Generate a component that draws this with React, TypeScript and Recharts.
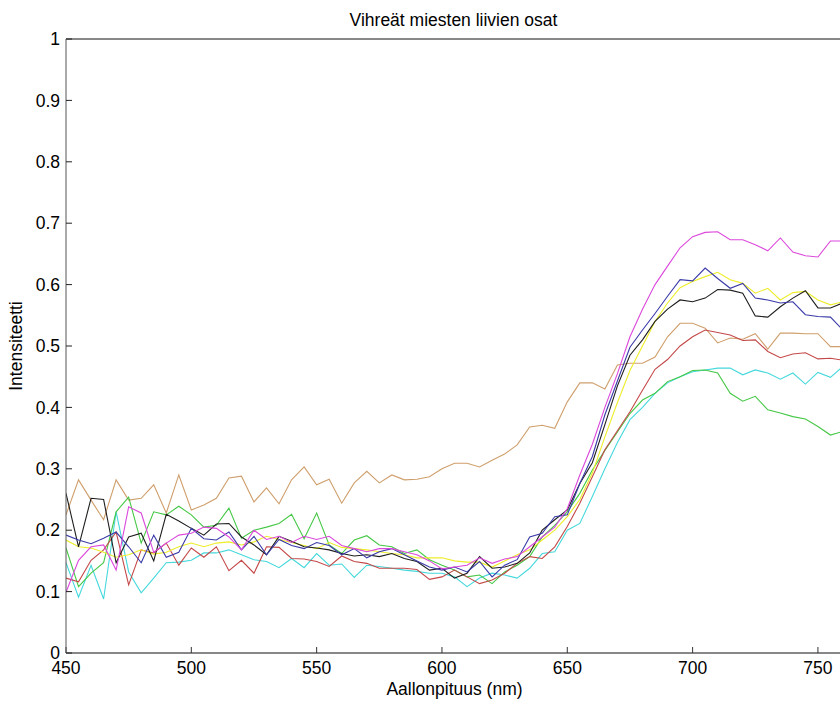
import React from 'react';
import { LineChart, Line, XAxis, YAxis } from 'recharts';

const wavelengths = [
  450, 455, 460, 465, 470, 475, 480, 485, 490, 495, 500, 505, 510, 515, 520,
  525, 530, 535, 540, 545, 550, 555, 560, 565, 570, 575, 580, 585, 590, 595,
  600, 605, 610, 615, 620, 625, 630, 635, 640, 645, 650, 655, 660, 665, 670,
  675, 680, 685, 690, 695, 700, 705, 710, 715, 720, 725, 730, 735, 740, 745,
  750, 755, 760,
];

const tan = [
  0.225, 0.282, 0.249, 0.217, 0.282, 0.249, 0.252, 0.274, 0.228, 0.29, 0.233, 0.241, 0.252, 0.285, 0.288,
  0.246, 0.269, 0.243, 0.282, 0.303, 0.274, 0.283, 0.244, 0.277, 0.296, 0.277, 0.29, 0.282, 0.283, 0.287,
  0.3, 0.309, 0.309, 0.303, 0.314, 0.324, 0.339, 0.368, 0.371, 0.366, 0.409, 0.44, 0.44, 0.43, 0.469,
  0.472, 0.472, 0.482, 0.515, 0.537, 0.537, 0.529, 0.505, 0.513, 0.511, 0.52, 0.495, 0.521, 0.521, 0.52,
  0.52, 0.499, 0.499,
];
const magenta = [
  0.099, 0.151, 0.173, 0.176, 0.135, 0.238, 0.228, 0.164, 0.179, 0.192, 0.195, 0.205, 0.203, 0.189, 0.168,
  0.2, 0.185, 0.19, 0.18, 0.19, 0.185, 0.19, 0.175, 0.17, 0.165, 0.17, 0.17, 0.165, 0.16, 0.15,
  0.137, 0.14, 0.143, 0.155, 0.146, 0.153, 0.157, 0.173, 0.189, 0.205, 0.235, 0.29, 0.34, 0.4, 0.455,
  0.515, 0.56, 0.6, 0.63, 0.66, 0.678, 0.685, 0.686, 0.673, 0.673, 0.665, 0.655, 0.676, 0.653, 0.647,
  0.645, 0.671, 0.671,
];
const blue = [
  0.192, 0.184, 0.178, 0.187, 0.197, 0.173, 0.147, 0.192, 0.156, 0.164, 0.203, 0.186, 0.184, 0.197, 0.168,
  0.19, 0.16, 0.185, 0.175, 0.17, 0.18, 0.175, 0.16, 0.17, 0.155, 0.165, 0.17, 0.16, 0.15, 0.14,
  0.135, 0.14, 0.132, 0.149, 0.124, 0.143, 0.152, 0.189, 0.195, 0.222, 0.225, 0.276, 0.32, 0.388, 0.443,
  0.498, 0.526, 0.553, 0.581, 0.608, 0.606, 0.627, 0.61, 0.594, 0.602, 0.578, 0.575, 0.57, 0.572, 0.551,
  0.548, 0.547, 0.526,
];
const black = [
  0.26, 0.173, 0.252, 0.25, 0.147, 0.189, 0.195, 0.15, 0.226, 0.215, 0.203, 0.192, 0.21, 0.211, 0.189,
  0.176, 0.16, 0.19, 0.182, 0.173, 0.171, 0.168, 0.162, 0.158, 0.16, 0.157, 0.162, 0.154, 0.149, 0.135,
  0.138, 0.122, 0.13, 0.157, 0.138, 0.14, 0.146, 0.163, 0.2, 0.217, 0.233, 0.276, 0.31, 0.372, 0.435,
  0.485, 0.51, 0.54, 0.56, 0.575, 0.572, 0.578, 0.592, 0.591, 0.586, 0.549, 0.547, 0.564, 0.578, 0.59,
  0.562, 0.562, 0.57,
];
const green = [
  0.171, 0.108, 0.13, 0.147, 0.23, 0.254, 0.179, 0.23, 0.225, 0.239, 0.225, 0.205, 0.208, 0.236, 0.187,
  0.2, 0.205, 0.211, 0.226, 0.186, 0.228, 0.176, 0.162, 0.184, 0.191, 0.176, 0.173, 0.162, 0.168, 0.152,
  0.143, 0.135, 0.124, 0.127, 0.113, 0.132, 0.143, 0.157, 0.189, 0.208, 0.23, 0.26, 0.298, 0.33, 0.36,
  0.39, 0.412, 0.423, 0.442, 0.45, 0.46, 0.461, 0.456, 0.423, 0.41, 0.418, 0.396, 0.391, 0.385, 0.381,
  0.369, 0.355, 0.361,
];
const red = [
  0.122, 0.116, 0.151, 0.168, 0.197, 0.111, 0.168, 0.163, 0.179, 0.143, 0.171, 0.156, 0.173, 0.134, 0.151,
  0.13, 0.173, 0.172, 0.154, 0.153, 0.149, 0.141, 0.158, 0.149, 0.146, 0.138, 0.138, 0.138, 0.136, 0.12,
  0.124, 0.135, 0.124, 0.113, 0.119, 0.13, 0.146, 0.157, 0.154, 0.173, 0.206, 0.244, 0.287, 0.331, 0.362,
  0.393, 0.428, 0.462, 0.478, 0.5, 0.515, 0.526, 0.522, 0.518, 0.509, 0.51, 0.491, 0.481, 0.487, 0.489,
  0.479, 0.48, 0.477,
];
const cyan = [
  0.147, 0.091, 0.143, 0.088, 0.23, 0.132, 0.098, 0.122, 0.147, 0.148, 0.151, 0.163, 0.163, 0.168, 0.16,
  0.152, 0.149, 0.139, 0.154, 0.139, 0.162, 0.143, 0.145, 0.123, 0.143, 0.141, 0.138, 0.135, 0.133, 0.13,
  0.13, 0.124, 0.108, 0.122, 0.13, 0.127, 0.122, 0.138, 0.162, 0.165, 0.2, 0.211, 0.255, 0.3, 0.343,
  0.38, 0.4, 0.423, 0.44, 0.45, 0.458, 0.461, 0.464, 0.464, 0.453, 0.461, 0.456, 0.446, 0.456, 0.438,
  0.457, 0.449, 0.467,
];
const yellow = [
  0.184, 0.173, 0.171, 0.164, 0.156, 0.16, 0.168, 0.161, 0.164, 0.173, 0.179, 0.173, 0.179, 0.181, 0.176,
  0.181, 0.19, 0.185, 0.18, 0.175, 0.17, 0.18, 0.172, 0.17, 0.168, 0.165, 0.162, 0.16, 0.155, 0.155,
  0.155, 0.15, 0.148, 0.148, 0.14, 0.15, 0.16, 0.168, 0.184, 0.2, 0.222, 0.25, 0.293, 0.352, 0.408,
  0.46, 0.5, 0.54, 0.57, 0.595, 0.605, 0.613, 0.62, 0.608, 0.602, 0.586, 0.594, 0.575, 0.587, 0.589,
  0.575, 0.567, 0.572,
];

const xTicks = [450, 500, 550, 600, 650, 700, 750];
const yTicks = [0, 0.1, 0.2, 0.3, 0.4, 0.5, 0.6, 0.7, 0.8, 0.9, 1];

const title = 'Vihreät miesten liivien osat';
const xLabel = 'Aallonpituus (nm)';
const yLabel = 'Intensiteetti';

const seriesList = [
  { key: 'tan', values: tan, color: '#cf9f6c' },
  { key: 'cyan', values: cyan, color: '#45d8dc' },
  { key: 'green', values: green, color: '#45c845' },
  { key: 'red', values: red, color: '#c44848' },
  { key: 'yellow', values: yellow, color: '#eded2a' },
  { key: 'black', values: black, color: '#1e1e1e' },
  { key: 'blue', values: blue, color: '#3a3aa8' },
  { key: 'magenta', values: magenta, color: '#dc48dc' },
];

const data = wavelengths.map((nm, i) => {
  const row: Record<string, number> = { nm };
  seriesList.forEach((s) => {
    row[s.key] = s.values[i];
  });
  return row;
});

const FONT = '"Liberation Sans", Arial, Helvetica, sans-serif';
const FS = 17.5;

const TitleContent = () => (
  <text x={453.5} y={26} textAnchor="middle" fontFamily={FONT} fontSize={FS} fill="#000">
    {title}
  </text>
);

const XLabelContent = (props: any) => {
  const vb = props.viewBox || { x: 66, width: 777 };
  return (
    <text x={vb.x + vb.width / 2} y={695} textAnchor="middle" fontFamily={FONT} fontSize={FS} fill="#000">
      {xLabel}
    </text>
  );
};

const YLabelContent = (props: any) => {
  const vb = props.viewBox || { y: 39, height: 614 };
  const cx = 16;
  const cy = vb.y + vb.height / 2;
  return (
    <text
      x={cx}
      y={cy}
      transform={`rotate(-90, ${cx}, ${cy})`}
      textAnchor="middle"
      dominantBaseline="central"
      fontFamily={FONT}
      fontSize={FS}
      fill="#000"
    >
      {yLabel}
    </text>
  );
};

const fmtY = (v: number) => (v === 0 ? '0' : v === 1 ? '1' : String(Math.round(v * 10) / 10));

export default function App() {
  return (
    <div
      style={{
        position: 'absolute',
        left: 0,
        top: 0,
        width: 840,
        height: 704,
        overflow: 'hidden',
        background: '#fff',
      }}
    >
      <LineChart
        width={850}
        height={704}
        data={data}
        margin={{ top: 38, right: 6, bottom: 0, left: 0 }}
      >
        <XAxis
          xAxisId="bottom"
          dataKey="nm"
          type="number"
          domain={[450, 760]}
          ticks={xTicks}
          allowDataOverflow
          orientation="bottom"
          height={51}
          tickSize={-6}
          tickMargin={14.5}
          axisLine={{ stroke: '#111', strokeWidth: 1 }}
          tickLine={{ stroke: '#333' }}
          tick={{ fill: '#000', fontFamily: FONT, fontSize: FS }}
          interval={0}
          label={{ value: xLabel, content: XLabelContent }}
        />
        <XAxis
          xAxisId="top"
          dataKey="nm"
          type="number"
          domain={[450, 760]}
          ticks={xTicks}
          allowDataOverflow
          orientation="top"
          height={1}
          tickSize={-6}
          tick={false}
          axisLine={{ stroke: '#111', strokeWidth: 1 }}
          tickLine={{ stroke: '#444' }}
          interval={0}
          label={{ value: title, content: TitleContent }}
        />
        <YAxis
          yAxisId="left"
          type="number"
          domain={[0, 1]}
          ticks={yTicks}
          allowDataOverflow
          orientation="left"
          width={66}
          tickSize={-6}
          tickMargin={12}
          axisLine={{ stroke: '#555', strokeWidth: 1 }}
          tickLine={{ stroke: '#222' }}
          tick={{ fill: '#000', fontFamily: FONT, fontSize: FS }}
          tickFormatter={fmtY}
          interval={0}
          label={{ value: yLabel, content: YLabelContent }}
        />
        <YAxis
          yAxisId="right"
          type="number"
          domain={[0, 1]}
          ticks={yTicks}
          allowDataOverflow
          orientation="right"
          width={1}
          tickSize={-6}
          tick={false}
          axisLine={{ stroke: '#111', strokeWidth: 1 }}
          tickLine={{ stroke: '#222' }}
          interval={0}
        />
        {seriesList.map((s) => (
          <Line
            key={s.key}
            xAxisId="bottom"
            yAxisId="left"
            dataKey={s.key}
            type="linear"
            stroke={s.color}
            strokeWidth={1.1}
            dot={false}
            activeDot={false}
            isAnimationActive={false}
          />
        ))}
      </LineChart>
    </div>
  );
}
